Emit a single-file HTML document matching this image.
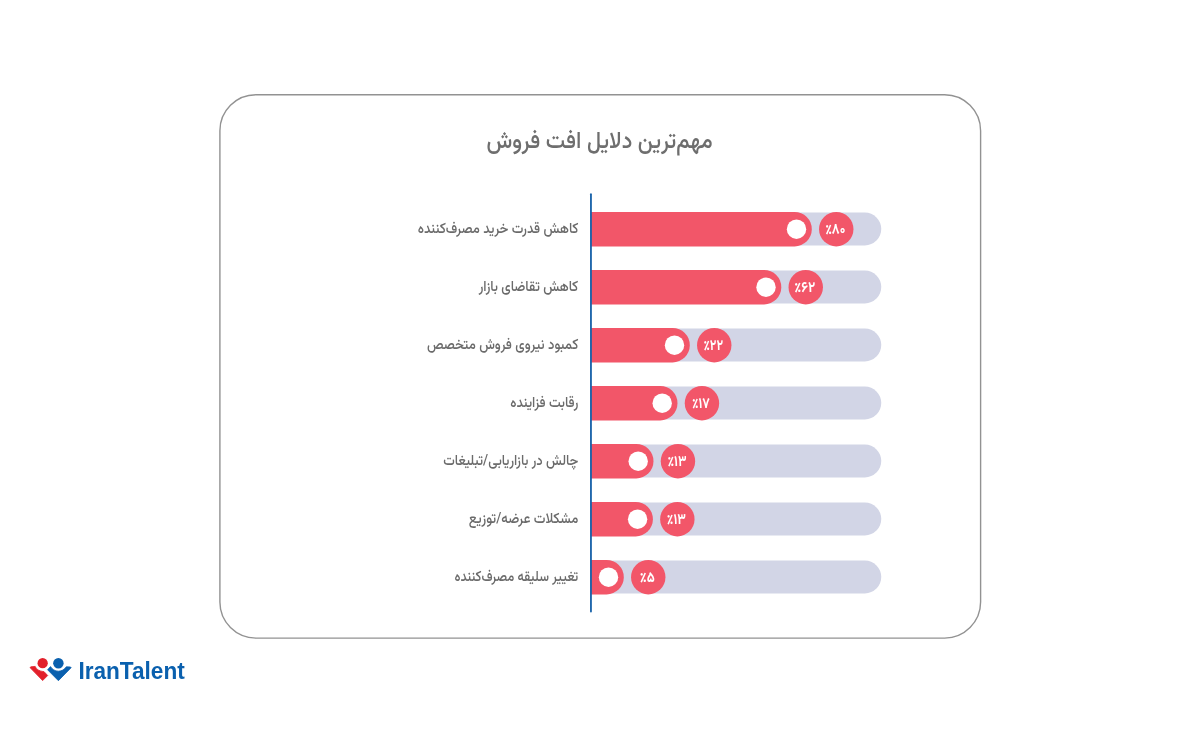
<!DOCTYPE html>
<html lang="fa">
<head>
<meta charset="utf-8">
<title>مهم‌ترین دلایل افت فروش</title>
<style>
html,body{margin:0;padding:0;background:#fff;}
body{width:1200px;height:745px;overflow:hidden;position:relative;}
svg{position:absolute;left:0;top:0;display:block;}
.fa{font-family:"Vazirmatn","Noto Sans Arabic","DejaVu Sans",sans-serif;}
.lbl{font-size:15px;font-weight:500;fill:#6b6b6b;}
.pct{font-size:14.8px;font-weight:700;fill:#fff;}
.ttl{font-size:24px;font-weight:550;fill:#6e6e6e;}
.logo{font-family:"Liberation Sans",sans-serif;font-weight:700;font-size:24px;fill:#0a60ae;}
</style>
</head>
<body>
<svg width="1200" height="745" viewBox="0 0 1200 745">
<rect x="0" y="0" width="1200" height="745" fill="#ffffff"/>
<rect x="219.9" y="94.8" width="760.7" height="543.3" rx="36" ry="36" fill="#ffffff" stroke="#929292" stroke-width="1.4"/>
<text class="fa ttl" x="712.6" y="147.7" direction="rtl" text-anchor="start" textLength="226.2" lengthAdjust="spacingAndGlyphs">مهم‌ترین دلایل افت فروش</text>

<g>
<rect x="591" y="212.6" width="290.25" height="32.8" rx="16.4" fill="#d2d5e6"/>
<path d="M591 212.0 H794.6 A17.2 17.2 0 0 1 794.6 246.4 H591 Z" fill="#f25669"/>
<circle cx="796.5" cy="229.2" r="9.7" fill="#ffffff"/>
<circle cx="836.25" cy="229.2" r="17.2" fill="#f25669"/>
<text class="fa pct" x="835.25" y="234.3" text-anchor="middle" direction="rtl" textLength="20.2" lengthAdjust="spacingAndGlyphs">٪۸۰</text>
<text class="fa lbl" x="578.3" y="232.5" direction="rtl" text-anchor="start" textLength="160.5" lengthAdjust="spacingAndGlyphs">کاهش قدرت خرید مصرف‌کننده</text>
</g>
<g>
<rect x="591" y="270.6" width="290.25" height="32.8" rx="16.4" fill="#d2d5e6"/>
<path d="M591 270.0 H764.1 A17.2 17.2 0 0 1 764.1 304.4 H591 Z" fill="#f25669"/>
<circle cx="766.0" cy="287.2" r="9.7" fill="#ffffff"/>
<circle cx="805.75" cy="287.2" r="17.2" fill="#f25669"/>
<text class="fa pct" x="804.75" y="292.3" text-anchor="middle" direction="rtl" textLength="21.0" lengthAdjust="spacingAndGlyphs">٪۶۲</text>
<text class="fa lbl" x="578.3" y="290.5" direction="rtl" text-anchor="start" textLength="99.6" lengthAdjust="spacingAndGlyphs">کاهش تقاضای بازار</text>
</g>
<g>
<rect x="591" y="328.6" width="290.25" height="32.8" rx="16.4" fill="#d2d5e6"/>
<path d="M591 328.0 H672.6 A17.2 17.2 0 0 1 672.6 362.4 H591 Z" fill="#f25669"/>
<circle cx="674.5" cy="345.2" r="9.7" fill="#ffffff"/>
<circle cx="714.25" cy="345.2" r="17.2" fill="#f25669"/>
<text class="fa pct" x="713.25" y="350.3" text-anchor="middle" direction="rtl" textLength="19.6" lengthAdjust="spacingAndGlyphs">٪۲۲</text>
<text class="fa lbl" x="578.3" y="348.5" direction="rtl" text-anchor="start" textLength="151.3" lengthAdjust="spacingAndGlyphs">کمبود نیروی فروش متخصص</text>
</g>
<g>
<rect x="591" y="386.6" width="290.25" height="32.8" rx="16.4" fill="#d2d5e6"/>
<path d="M591 386.0 H660.3 A17.2 17.2 0 0 1 660.3 420.4 H591 Z" fill="#f25669"/>
<circle cx="662.2" cy="403.2" r="9.7" fill="#ffffff"/>
<circle cx="701.95" cy="403.2" r="17.2" fill="#f25669"/>
<text class="fa pct" x="700.95" y="408.3" text-anchor="middle" direction="rtl" textLength="17.9" lengthAdjust="spacingAndGlyphs">٪۱۷</text>
<text class="fa lbl" x="578.3" y="406.5" direction="rtl" text-anchor="start" textLength="68.0" lengthAdjust="spacingAndGlyphs">رقابت فزاینده</text>
</g>
<g>
<rect x="591" y="444.6" width="290.25" height="32.8" rx="16.4" fill="#d2d5e6"/>
<path d="M591 444.0 H636.3 A17.2 17.2 0 0 1 636.3 478.4 H591 Z" fill="#f25669"/>
<circle cx="638.2" cy="461.2" r="9.7" fill="#ffffff"/>
<circle cx="677.95" cy="461.2" r="17.2" fill="#f25669"/>
<text class="fa pct" x="676.95" y="466.3" text-anchor="middle" direction="rtl" textLength="19.1" lengthAdjust="spacingAndGlyphs">٪۱۳</text>
<text class="fa lbl" x="578.3" y="464.5" direction="rtl" text-anchor="start" textLength="135.1" lengthAdjust="spacingAndGlyphs">چالش در بازاریابی/تبلیغات</text>
</g>
<g>
<rect x="591" y="502.6" width="290.25" height="32.8" rx="16.4" fill="#d2d5e6"/>
<path d="M591 502.0 H635.7 A17.2 17.2 0 0 1 635.7 536.4 H591 Z" fill="#f25669"/>
<circle cx="637.6" cy="519.2" r="9.7" fill="#ffffff"/>
<circle cx="677.35" cy="519.2" r="17.2" fill="#f25669"/>
<text class="fa pct" x="676.35" y="524.3" text-anchor="middle" direction="rtl" textLength="19.1" lengthAdjust="spacingAndGlyphs">٪۱۳</text>
<text class="fa lbl" x="578.3" y="522.5" direction="rtl" text-anchor="start" textLength="109.6" lengthAdjust="spacingAndGlyphs">مشکلات عرضه/توزیع</text>
</g>
<g>
<rect x="591" y="560.6" width="290.25" height="32.8" rx="16.4" fill="#d2d5e6"/>
<path d="M591 560.0 H606.6 A17.2 17.2 0 0 1 606.6 594.4 H591 Z" fill="#f25669"/>
<circle cx="608.5" cy="577.2" r="9.7" fill="#ffffff"/>
<circle cx="648.25" cy="577.2" r="17.2" fill="#f25669"/>
<text class="fa pct" x="647.25" y="582.3" text-anchor="middle" direction="rtl" textLength="15.0" lengthAdjust="spacingAndGlyphs">٪۵</text>
<text class="fa lbl" x="578.3" y="580.5" direction="rtl" text-anchor="start" textLength="123.8" lengthAdjust="spacingAndGlyphs">تغییر سلیقه مصرف‌کننده</text>
</g>
<rect x="590.05" y="193.3" width="1.8" height="419.2" rx="0.9" fill="#1560a8"/>
<g>
<circle cx="42.65" cy="663.2" r="5.15" fill="#e2202b"/>
<circle cx="58.4" cy="663.2" r="5.25" fill="#0a60ae"/>
<path d="M30.0 667.6 L31.0 666.8 L35.2 666.4 Q36.8 670.9 44.1 671.7 L47.7 675.5 L42.65 680.6 Z" fill="#e2202b" stroke="#e2202b" stroke-width="0.8" stroke-linejoin="round"/>
<path d="M47.6 669.8 L50.5 666.6 A9.2 9.2 0 0 0 66.3 666.8 L70.6 667.0 L71.1 667.7 L58.4 680.7 Z" fill="#0a60ae" stroke="#0a60ae" stroke-width="0.8" stroke-linejoin="round"/>
<text class="logo" x="78.4" y="679.3" textLength="106.4" lengthAdjust="spacingAndGlyphs">IranTalent</text>
</g>

</svg>
</body>
</html>
